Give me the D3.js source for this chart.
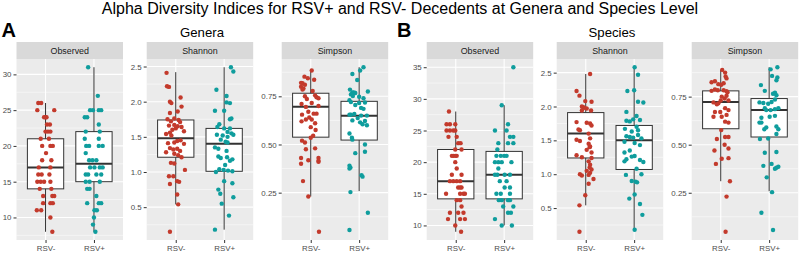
<!DOCTYPE html>
<html><head><meta charset="utf-8">
<script src="https://cdn.jsdelivr.net/npm/d3@7"></script>
<style>
  body {margin:0; background:#fff;}
  svg {display:block; font-family:'Liberation Sans', Arial, sans-serif;}
</style>
</head><body>
<svg id="chart" width="800" height="253"></svg>
<script>
// groups + colours
const groups = ['RSV-', 'RSV+'];
const groupColors = ['#c33a2c', '#0f9d9d'];
const indexNames = ['Observed', 'Shannon', 'Simpson', 'Observed', 'Shannon', 'Simpson'];
const panelTicks = [[10,15,20,25,30], [0.5,1,1.5,2,2.5], [0.25,0.5,0.75],
                    [10,15,20,25,30,35], [0.5,1,1.5,2,2.5], [0.25,0.5,0.75]];
const tickFormats = ['d', '.1f', '.2f', 'd', '.1f', '.2f'];

// points: [value, jitter (category units)]
const generaObservedNeg = [[26,-.15],[26,-.09],[25,-.17],[25,.18],[24,-.03],[24,.02],[24,0],[23,.03],[23,.09],[22,0],[22,.1],[22,.05],
  [21,-.1],[21,.07],[20,-.07],[20,.1],[20,.15],[19,.01],[18,-.07],[18,.12],[17,-.14],[17,.1],[16,-.15],[16,-.08],[16,.08],
  [15,-.17],[15,-.1],[15,-.03],[15,.1],[14,-.12],[14,.12],[13,-.05],[13,.14],[13,.18],[12,-.05],[12,.1],[12,.15],
  [11,-.18],[11,-.09],[10,.1],[8,.14]];
const generaObservedPos = [[31,-.12],[27,.08],[25,-.08],[25,-.02],[25,.1],[25,.15],[24,-.19],[24,-.14],[23,.1],[22,-.17],[22,.12],
  [21,-.19],[21,.1],[20,-.16],[20,-.1],[20,.1],[20,.18],[19,-.17],[18,-.1],[18,-.03],[18,.05],[17,-.08],[17,.01],[17,.12],[17,.18],
  [16,-.17],[16,-.12],[16,.05],[16,.15],[15,-.17],[15,-.09],[15,.12],[14,-.14],[14,-.09],[13,.05],[12,-.14],[12,.1],[12,.15],
  [11,.01],[11,.06],[10,0],[9,-.02],[8,.03]];
const generaShannonNeg = [[2.41,-.19],[2.22,-.18],[2.21,-.14],[2.06,.1],[2.0,-.12],[1.98,-.09],[1.93,.12],[1.84,-.12],[1.86,.04],
  [1.75,-.17],[1.72,-.1],[1.76,-.03],[1.74,.06],[1.71,.09],[1.66,-.14],[1.67,-.03],[1.65,.04],[1.64,.12],[1.60,-.07],[1.62,0],
  [1.58,.17],[1.54,-.2],[1.56,-.12],[1.52,-.09],[1.45,.1],[1.44,.03],[1.41,-.16],[1.42,-.03],[1.40,.17],[1.34,-.12],[1.32,-.05],
  [1.33,.03],[1.30,.09],[1.28,-.2],[1.26,-.03],[1.24,.05],[1.21,.12],[1.13,-.1],[1.12,-.03],[1.03,.19],[0.94,-.14],[0.94,-.05],
  [0.87,.03],[0.86,.07],[0.83,-.12],[0.68,.03],[0.54,.05],[0.15,-.12]];
const generaShannonPos = [[2.49,.14],[2.43,.19],[2.17,-.16],[2.08,.05],[1.99,.05],[1.98,.12],[1.87,-.19],[1.87,0],[1.76,.15],
  [1.75,.12],[1.68,-.1],[1.64,-.14],[1.62,0],[1.62,.12],[1.57,.07],[1.55,.15],[1.53,.19],[1.53,-.15],[1.52,-.03],[1.50,.07],
  [1.46,-.07],[1.43,.03],[1.42,.07],[1.35,-.19],[1.33,-.12],[1.30,.05],[1.22,-.12],[1.20,-.07],[1.21,.06],[1.18,.17],[1.16,.12],
  [1.10,.02],[1.04,-.1],[1.03,-.01],[1.02,.08],[1.01,.17],[1.0,-.17],[0.87,0],[0.84,.17],[0.75,-.12],[0.69,-.08],[0.64,.19],
  [0.55,-.05],[0.38,.1],[0.18,-.19]];
const generaSimpsonNeg = [[0.884,.02],[0.852,-.13],[0.844,-.06],[0.836,.07],[0.82,-.2],[0.818,-.17],[0.81,-.12],[0.80,-.2],
  [0.79,-.15],[0.785,-.17],[0.778,.04],[0.75,-.12],[0.736,-.08],[0.755,.09],[0.745,.12],[0.74,.16],[0.71,-.19],[0.715,.02],
  [0.695,-.1],[0.70,.16],[0.67,-.05],[0.66,.06],[0.655,-.18],[0.66,.12],[0.64,-.03],[0.63,.02],[0.62,-.19],[0.63,-.1],[0.61,.09],
  [0.59,0],[0.575,.1],[0.545,.05],[0.535,0],[0.52,-.18],[0.51,-.12],[0.48,.09],[0.475,-.1],[0.43,-.2],[0.43,.16],[0.415,.16],
  [0.418,-.05],[0.40,-.2],[0.41,.16],[0.31,-.16],[0.23,-.05],[0.047,.17]];
const generaSimpsonPos = [[0.901,.09],[0.884,.02],[0.866,-.14],[0.835,-.04],[0.785,-.19],[0.77,-.14],[0.77,-.11],[0.767,-.08],
  [0.775,.18],[0.76,-.17],[0.752,-.13],[0.748,0],[0.74,.09],[0.73,-.2],[0.72,-.17],[0.715,0],[0.718,.12],[0.705,-.08],[0.69,.04],
  [0.685,.09],[0.655,-.2],[0.655,-.17],[0.658,-.1],[0.65,.04],[0.65,.16],[0.637,-.03],[0.625,-.14],[0.622,.12],[0.60,.16],
  [0.615,.02],[0.605,.07],[0.557,-.2],[0.535,-.15],[0.525,-.14],[0.50,.12],[0.455,-.08],[0.462,.12],[0.39,-.2],[0.38,-.18],
  [0.375,-.2],[0.34,.05],[0.333,.07],[0.253,-.18],[0.146,.18],[0.056,-.2]];
const speciesObservedNeg = [[28,-.14],[26,-.19],[26,-.12],[26,-.01],[25,-.19],[25,-.12],[25,-.05],[25,-.01],[24,-.15],[24,.02],
  [23,.05],[23,.1],[22,-.01],[22,.12],[21,-.08],[21,-.05],[21,-.01],[21,.02],[20,-.01],[19,.02],[18,-.08],[18,.12],
  [17,-.12],[17,-.05],[17,.02],[17,.09],[16,.05],[16,.09],[16,.12],[15,-.2],[15,.09],[15,.16],[15,.19],[14,.02],[14,.09],
  [13,.12],[12,-.12],[12,.05],[12,.16],[11,-.16],[11,.09],[11,.19],[10,-.01],[9,.11]];
const speciesObservedPos = [[35,.19],[29,-.05],[26,.08],[25,-.19],[25,.05],[24,.12],[24,.19],[23,-.12],[23,.08],[23,.19],[22,-.14],
  [21,-.16],[21,-.07],[21,0],[21,.05],[20,-.19],[20,-.12],[20,-.05],[20,.15],[19,-.12],[18,-.19],[18,-.14],[18,.01],[18,.12],
  [17,-.09],[17,.05],[16,.01],[16,.12],[15,-.16],[15,-.07],[15,.12],[14,-.11],[14,-.05],[14,.08],[14,.12],[13,-.02],[13,.19],
  [12,.08],[12,.14],[11,-.19],[10,-.05],[10,.16]];
const speciesShannonNeg = [[2.48,.09],[2.23,-.19],[2.16,-.13],[2.07,.12],[2.08,-.01],[1.99,-.05],[2.0,-.08],[1.98,-.03],[1.97,.02],
  [1.94,-.08],[1.94,.11],[1.77,-.19],[1.76,.02],[1.75,.09],[1.72,.12],[1.66,-.15],[1.65,-.12],[1.60,.06],[1.53,.09],[1.51,-.19],
  [1.49,-.12],[1.45,.06],[1.41,.09],[1.40,.08],[1.36,.02],[1.32,.12],[1.28,-.19],[1.25,-.08],[1.24,.12],[1.19,.06],[1.14,.09],
  [1.10,.08],[1.07,.12],[1.05,.02],[1.02,.09],[0.99,.06],[1.0,-.12],[0.98,-.08],[0.93,.16],[0.86,.06],[0.69,-.01],[0.54,-.13],
  [0.15,-.13]];
const speciesShannonPos = [[2.58,.01],[2.47,.08],[2.23,-.14],[2.24,0],[2.07,.08],[2.06,.19],[1.92,-.16],[1.86,.05],[1.81,-.02],
  [1.80,.12],[1.79,-.16],[1.78,-.09],[1.67,-.19],[1.70,.05],[1.63,-.05],[1.65,.08],[1.56,-.16],[1.55,-.09],[1.54,-.02],[1.58,.08],
  [1.53,.15],[1.48,-.2],[1.46,.01],[1.43,.12],[1.32,-.2],[1.35,-.09],[1.27,.01],[1.26,-.05],[1.22,-.16],[1.21,.12],[1.18,.19],
  [1.19,-.2],[1.08,.05],[0.99,-.17],[1.0,.15],[0.90,-.05],[0.89,.03],[0.88,.06],[0.70,.01],[0.64,-.1],[0.56,.12],[0.40,.17],
  [0.18,.01]];
const speciesSimpsonNeg = [[0.889,.03],[0.875,.09],[0.855,.1],[0.845,.12],[0.825,-.19],[0.83,-.12],[0.815,-.05],[0.812,.01],
  [0.82,.06],[0.78,-.19],[0.787,-.12],[0.783,-.06],[0.783,.06],[0.778,.12],[0.773,.14],[0.75,.02],[0.74,.08],[0.755,.12],
  [0.73,.16],[0.73,0],[0.72,-.15],[0.71,-.08],[0.715,-.05],[0.69,.09],[0.68,.16],[0.67,-.01],[0.67,-.12],[0.645,-.15],
  [0.645,.02],[0.655,.12],[0.62,.09],[0.615,.16],[0.576,.01],[0.53,-.08],[0.54,.09],[0.54,.16],[0.50,.08],[0.48,.16],
  [0.47,-.13],[0.43,.16],[0.427,.02],[0.40,-.1],[0.31,.19],[0.23,.12],[0.047,.1]];
const speciesSimpsonPos = [[0.903,.17],[0.892,.03],[0.858,.06],[0.85,.17],[0.835,.15],[0.81,-.17],[0.78,-.09],[0.77,.12],
  [0.765,.08],[0.757,.15],[0.72,-.2],[0.717,-.12],[0.713,-.02],[0.722,.05],[0.735,.12],[0.69,-.09],[0.68,-.06],[0.68,.03],
  [0.685,.12],[0.69,.19],[0.64,-.16],[0.645,.01],[0.65,.12],[0.615,-.16],[0.615,-.2],[0.59,-.06],[0.58,-.1],[0.595,.15],
  [0.58,.19],[0.556,.15],[0.53,-.19],[0.532,-.02],[0.458,-.09],[0.462,.15],[0.39,-.12],[0.40,.05],[0.38,.15],[0.385,.19],
  [0.375,.12],[0.33,-.05],[0.253,.06],[0.146,-.16],[0.056,.08]];

// box stats: [lower whisker, q1, median, q3, upper whisker] for RSV-, RSV+
const generaObservedBox = [[8,14,17,21,26], [8,15,17.5,22,31]];
const generaShannonBox = [[0.54,1.21,1.48,1.74,2.42], [0.18,1.01,1.40,1.62,2.49]];
const generaSimpsonBox = [[0.23,0.538,0.696,0.766,0.884], [0.258,0.523,0.649,0.724,0.901]];
const speciesObservedBox = [[9,14.2,17,22,28], [10,14.2,18,21.7,29]];
const speciesShannonBox = [[0.54,1.24,1.60,1.91,2.48], [0.18,1.07,1.50,1.72,2.58]];
const speciesSimpsonBox = [[0.31,0.583,0.722,0.78,0.889], [0.258,0.54,0.68,0.74,0.903]];

const panelPoints = [[generaObservedNeg, generaObservedPos], [generaShannonNeg, generaShannonPos],
  [generaSimpsonNeg, generaSimpsonPos], [speciesObservedNeg, speciesObservedPos],
  [speciesShannonNeg, speciesShannonPos], [speciesSimpsonNeg, speciesSimpsonPos]];
const panelBoxes = [generaObservedBox, generaShannonBox, generaSimpsonBox,
  speciesObservedBox, speciesShannonBox, speciesSimpsonBox];

// layout
const panelLeft = [16.5, 146.7, 281.7, 426.7, 556.7, 691.7];
const pw = 106.5, stripTop = 42, panelTop = 59, panelBottom = 240, ph = panelBottom - panelTop;

const svg = d3.select('#chart');

svg.append('text').attr('x', 400).attr('y', 14).attr('text-anchor', 'middle')
   .style('font-size', '16px').text('Alpha Diversity Indices for RSV+ and RSV- Decedents at Genera and Species Level');
[['A', 1.5], ['B', 397]].forEach(function(d) {
  svg.append('text').attr('x', d[1]).attr('y', 37).style('font-size', '20px')
     .style('font-weight', 'bold').text(d[0]); });
[['Genera', 202], ['Species', 612]].forEach(function(d) {
  svg.append('text').attr('x', d[1]).attr('y', 36.5).attr('text-anchor', 'middle')
     .style('font-size', '13.2px').text(d[0]); });

panelPoints.forEach(function(pts, p) {
  const g = svg.append('g').attr('transform', 'translate(' + panelLeft[p] + ',' + panelTop + ')');
  const all = pts[0].concat(pts[1]).map(d => d[0]);
  const ext = d3.extent(all), pad = (ext[1] - ext[0]) * 0.05;
  const y = d3.scaleLinear().domain([ext[0] - pad, ext[1] + pad]).range([ph, 0]);
  const x = d3.scalePoint().domain(groups).range([0, pw]).padding(0.6);
  const step = x.step();

  // strip
  svg.append('rect').attr('x', panelLeft[p]).attr('y', stripTop).attr('width', pw)
     .attr('height', panelTop - stripTop).attr('fill', '#d9d9d9');
  svg.append('text').attr('x', panelLeft[p] + pw / 2).attr('y', (stripTop + panelTop) / 2 + 3.1)
     .attr('text-anchor', 'middle').style('font-size', '8.9px').attr('fill', '#1a1a1a').text(indexNames[p]);

  g.append('rect').attr('width', pw).attr('height', ph).attr('fill', '#ebebeb');

  const ticks = panelTicks[p], tstep = ticks[1] - ticks[0];
  const minor = d3.range(ticks[0] - tstep / 2, ticks[ticks.length - 1] + tstep, tstep)
                  .filter(v => v >= y.domain()[0] && v <= y.domain()[1]);
  g.selectAll('.minor').data(minor).enter().append('line')
   .attr('x1', 0).attr('x2', pw).attr('y1', d => y(d)).attr('y2', d => y(d))
   .attr('stroke', '#fff').attr('stroke-width', 0.5);
  g.selectAll('.major').data(ticks).enter().append('line')
   .attr('x1', 0).attr('x2', pw).attr('y1', d => y(d)).attr('y2', d => y(d))
   .attr('stroke', '#fff').attr('stroke-width', 1.1);
  g.selectAll('.vgrid').data(groups).enter().append('line')
   .attr('x1', d => x(d)).attr('x2', d => x(d)).attr('y1', 0).attr('y2', ph)
   .attr('stroke', '#fff').attr('stroke-width', 1.1);

  // axes
  const ya = g.append('g').call(d3.axisLeft(y).tickValues(ticks).tickFormat(d3.format(tickFormats[p]))
                                  .tickSize(3).tickPadding(2));
  const xa = g.append('g').attr('transform', 'translate(0,' + ph + ')')
              .call(d3.axisBottom(x).tickSize(3).tickPadding(2));
  [ya, xa].forEach(function(a) {
    a.select('.domain').remove();
    a.selectAll('line').attr('stroke', '#333');
    a.selectAll('text').attr('fill', '#4d4d4d').style('font-size', '7.9px')
     .style('font-family', "'Liberation Sans', Arial, sans-serif");
  });

  // boxes
  panelBoxes[p].forEach(function(b, i) {
    const cx = x(groups[i]), bw = step * 0.75;
    g.append('line').attr('x1', cx).attr('x2', cx).attr('y1', y(b[0])).attr('y2', y(b[4]))
     .attr('stroke', '#333').attr('stroke-width', 1);
    g.append('rect').attr('x', cx - bw / 2).attr('width', bw).attr('y', y(b[3]))
     .attr('height', y(b[1]) - y(b[3])).attr('fill', '#fff').attr('stroke', '#333').attr('stroke-width', 1);
    g.append('line').attr('x1', cx - bw / 2).attr('x2', cx + bw / 2).attr('y1', y(b[2])).attr('y2', y(b[2]))
     .attr('stroke', '#333').attr('stroke-width', 2);
  });

  // jittered points
  pts.forEach(function(arr, i) {
    g.append('g').selectAll('circle').data(arr).enter().append('circle')
     .attr('cx', d => x(groups[i]) + d[1] * step).attr('cy', d => y(d[0]))
     .attr('r', 2.2).attr('fill', groupColors[i]);
  });
});
</script>
</body></html>
